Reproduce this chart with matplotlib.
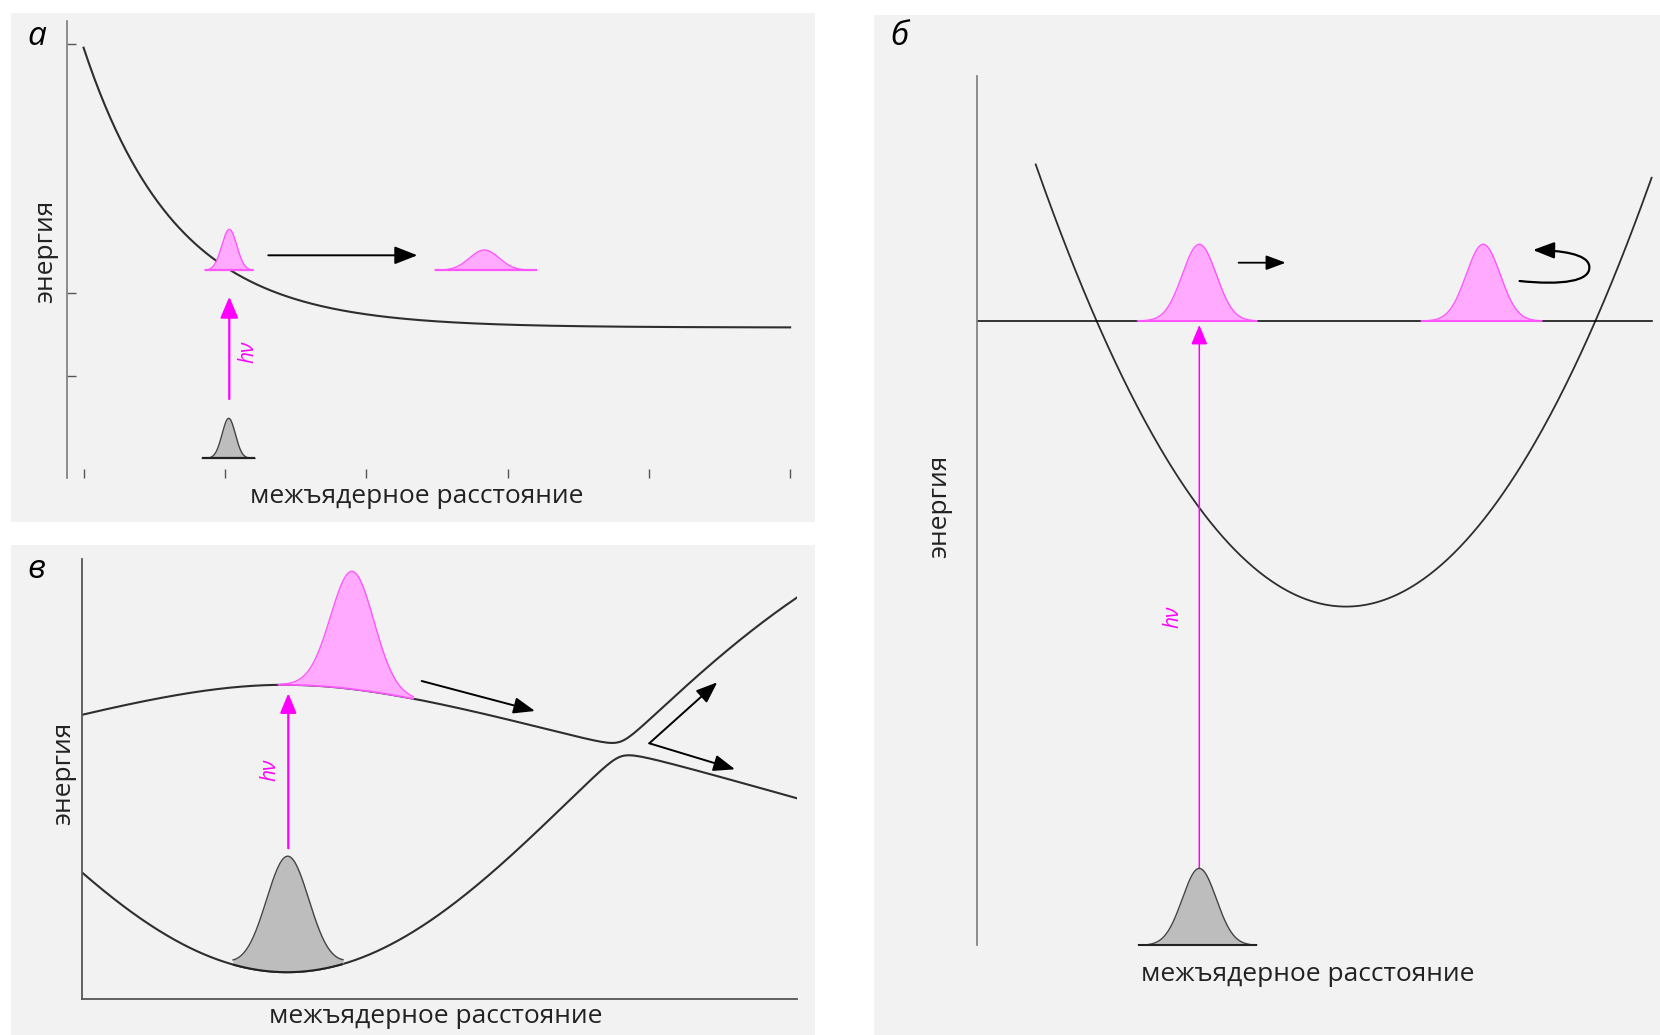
import numpy as np
import matplotlib.pyplot as plt
from matplotlib.patches import Rectangle, FancyArrowPatch
from matplotlib.path import Path

W, H = 1660, 1035
plt.rcParams['font.family'] = ['Open Sans', 'DejaVu Sans']

# colours
panel_bg = '#f2f2f2'
curve_col = '#2e2e2e'
pink_fill = '#ffaaff'
pink_edge = '#ff55ff'
magenta = '#ff00ff'
gray_fill = '#bdbdbd'
gray_edge = '#444444'

label_x = 'межъядерное расстояние'
label_y = 'энергия'
label_hv = 'hν'

# ---- panel а: dissociative state, E = e_inf + amp * exp(-r / decay)
a_span = [0.0, 5.0]
a_e_inf, a_amp, a_decay = 0.584, 3.371, 0.655
a_xticks = [0, 1, 2, 3, 4, 5]
a_yticks = [0, 1, 4]
# wavepackets: excited (start), excited (later), ground
a_pk_center = [1.031, 2.836, 1.027]
a_pk_base = [1.273, 1.273, -0.992]
a_pk_height = [0.494, 0.245, 0.482]
a_pk_sigma = [0.053, 0.105, 0.047]
a_pk_lo = [0.859, 2.487, 0.840]
a_pk_hi = [1.201, 3.207, 1.213]
a_pk_excited = [True, True, False]
a_hv_x, a_hv_from, a_hv_to = 1.031, -0.277, 0.955
a_hv_text = (1.163, 0.293)
a_move = [(1.307, 1.454), (2.362, 1.454)]

# ---- panel б: bound state, harmonic well E = e_min + k * (r - r_min)^2
b_span = [0.59, 6.749]
b_r_min, b_e_min, b_k = 3.693, 3.388, 0.4592
b_level, b_level_span = 6.244, [0.0, 6.75]
b_pk_center = [2.226, 5.065, 2.226]
b_pk_base = [6.244, 6.244, 0.0]
b_pk_height = [0.767, 0.767, 0.77]
b_pk_sigma = [0.17, 0.17, 0.17]
b_pk_lo = [1.608, 4.447, 1.613]
b_pk_hi = [2.803, 5.651, 2.803]
b_pk_excited = [True, True, False]
b_hv_x, b_hv_from, b_hv_to = 2.226, 0.77, 6.204
b_hv_text = (1.963, 3.284)
b_move = [(2.619, 6.827), (3.09, 6.827)]
b_turn = [(5.429, 6.644), (6.126, 6.787), (5.562, 6.954)]

# ---- panel в: two crossing diabatic states with weak coupling
c_span = [0.0, 7.144]
c_low_emin, c_low_r0, c_low_depth, c_low_w = 0.273, 2.047, 5.0, 3.07
c_up_emax, c_up_r0, c_up_b, c_up_w = 3.143, 2.027, 0.442, 1.5
c_coupling = 0.075
c_pink = dict(center=2.70, sigma=0.215, height=1.177, lo=1.96, hi=3.31)
c_gray = dict(center=2.054, sigma=0.215, height=1.16, lo=1.507, hi=2.607)
c_hv_x, c_hv_from, c_hv_to = 2.06, 1.51, 3.06
c_hv_text = (1.877, 2.296)
c_moves = [[(3.394, 3.183), (4.527, 2.883)],
           [(5.67, 2.56), (6.35, 3.17)],
           [(5.67, 2.56), (6.527, 2.30)]]


def fpos(x, y):
    return x / W, 1 - y / H


def px_axes(fig, left, top, right, bottom):
    ax = fig.add_axes([left / W, 1 - bottom / H, (right - left) / W, (bottom - top) / H])
    ax.set_facecolor('none')
    for s in ax.spines.values():
        s.set_visible(False)
    ax.set_xticks([])
    ax.set_yticks([])
    return ax


def packet(ax, center, sigma, height, lo, hi, base, excited, base_lw=1.6):
    r = np.linspace(lo, hi, 300)
    b = base(r) if callable(base) else np.full_like(r, base)
    top = b + height * np.exp(-0.5 * ((r - center) / sigma) ** 2)
    fill, edge = (pink_fill, pink_edge) if excited else (gray_fill, gray_edge)
    ax.fill_between(r, b, top, color=fill, lw=0, zorder=3)
    ax.plot(r, top, color=edge, lw=1.0, zorder=4)
    if base_lw:
        ax.plot(r, b, color=edge if excited else '#222222', lw=base_lw,
                zorder=4, clip_on=False, solid_capstyle='butt')


def arrow(ax, start, end, color='black', lw=1.4, hl=1.4, hw=0.55):
    ax.annotate('', xy=end, xytext=start, annotation_clip=False,
                arrowprops=dict(arrowstyle=f'-|>,head_length={hl},head_width={hw}',
                                color=color, lw=lw, shrinkA=0, shrinkB=0,
                                mutation_scale=10))


def hv_label(ax, pos):
    ax.text(*pos, label_hv, color=magenta, fontsize=15, style='italic',
            rotation=90, ha='center', va='center')


fig = plt.figure(figsize=(W / 100, H / 100), dpi=100)
for box in [(10.6, 12.7, 815, 521.5), (874, 14.5, 1660, 1035), (10.6, 545, 815, 1035)]:
    x0, y0, x1, y1 = box
    fig.patches.append(Rectangle(fpos(x0, y1), (x1 - x0) / W, (y1 - y0) / H,
                                 transform=fig.transFigure, facecolor=panel_bg,
                                 edgecolor='none', zorder=-5))

# ---------- а
ax = px_axes(fig, 66.7, 21, 815, 478.5)
ax.set_xlim(-0.1196, 5.176)
ax.set_ylim(-1.235, 4.277)
ax.spines['left'].set_visible(True)
ax.spines['left'].set_color('#7a7a7a')
ax.spines['left'].set_linewidth(1.2)
ax.set_xticks(a_xticks)
ax.set_yticks(a_yticks)
ax.tick_params(direction='in', length=6.5, width=1.0, colors='#555555',
               labelleft=False, labelbottom=False)
ra = np.linspace(*a_span, 400)
ax.plot(ra, a_e_inf + a_amp * np.exp(-ra / a_decay), color=curve_col, lw=1.5, zorder=2)
for i in range(3):
    packet(ax, a_pk_center[i], a_pk_sigma[i], a_pk_height[i], a_pk_lo[i], a_pk_hi[i],
           a_pk_base[i], a_pk_excited[i])
arrow(ax, (a_hv_x, a_hv_from), (a_hv_x, a_hv_to), color=magenta, lw=1.6, hl=1.3, hw=0.55)
hv_label(ax, a_hv_text)
arrow(ax, *a_move)

# ---------- б
ax = px_axes(fig, 976.7, 75.7, 1660, 945.4)
ax.set_xlim(0, 6.833)
ax.set_ylim(0, 8.697)
ax.spines['left'].set_visible(True)
ax.spines['left'].set_color('#7a7a7a')
ax.spines['left'].set_linewidth(1.2)
rb = np.linspace(*b_span, 400)
ax.plot(rb, b_e_min + b_k * (rb - b_r_min) ** 2, color=curve_col, lw=1.3, zorder=2)
ax.plot(b_level_span, [b_level, b_level], color='black', lw=1.1, zorder=2)
for i in range(3):
    packet(ax, b_pk_center[i], b_pk_sigma[i], b_pk_height[i], b_pk_lo[i], b_pk_hi[i],
           b_pk_base[i], b_pk_excited[i], base_lw=1.5)
arrow(ax, (b_hv_x, b_hv_from), (b_hv_x, b_hv_to), color=magenta, lw=1.1, hl=1.2, hw=0.5)
hv_label(ax, b_hv_text)
arrow(ax, *b_move, lw=1.3, hl=1.2, hw=0.45)
s, r, t = b_turn
turn_path = Path([s, (5.85, 6.60), (6.14, 6.64), r, (6.12, 6.92), (5.82, 6.95), t],
                 [Path.MOVETO] + [Path.CURVE4] * 6)
ax.add_patch(FancyArrowPatch(path=turn_path, arrowstyle='-|>,head_length=1.3,head_width=0.5',
                             mutation_scale=10, color='black', lw=1.6))

# ---------- в
ax = px_axes(fig, 82.3, 559.3, 797, 999.3)
ax.set_xlim(0, 7.147)
ax.set_ylim(0, 4.40)
for side in ['left', 'bottom']:
    ax.spines[side].set_visible(True)
    ax.spines[side].set_color('#555555')
    ax.spines[side].set_linewidth(1.3)


def diabatic(r):
    e_low = c_low_emin + c_low_depth * (1 - np.exp(-0.5 * ((r - c_low_r0) / c_low_w) ** 2))
    e_up = c_up_emax - c_up_b * (np.sqrt(1 + ((r - c_up_r0) / c_up_w) ** 2) - 1)
    return e_low, e_up


def lower_state(r):
    e1, e2 = diabatic(r)
    return (e1 + e2) / 2 - np.sqrt(((e1 - e2) / 2) ** 2 + c_coupling ** 2)


def upper_state(r):
    e1, e2 = diabatic(r)
    return (e1 + e2) / 2 + np.sqrt(((e1 - e2) / 2) ** 2 + c_coupling ** 2)


rc = np.linspace(*c_span, 800)
ax.plot(rc, lower_state(rc), color=curve_col, lw=1.5, zorder=2)
ax.plot(rc, upper_state(rc), color=curve_col, lw=1.5, zorder=2)
packet(ax, **c_pink, base=upper_state, excited=True, base_lw=1.2)
packet(ax, **c_gray, base=lower_state, excited=False, base_lw=1.5)
arrow(ax, (c_hv_x, c_hv_from), (c_hv_x, c_hv_to), color=magenta, lw=1.6, hl=1.2, hw=0.5)
hv_label(ax, c_hv_text)
for m in c_moves:
    arrow(ax, *m, hl=1.3, hw=0.5)

# ---------- texts
for letter, (x, y) in zip(['а', 'б', 'в'], [(27, 45), (890, 45), (27, 578)]):
    fig.text(*fpos(x, y), letter, fontsize=24, style='italic', ha='left', va='baseline')
for (x, y) in [(417, 503), (1307.5, 981), (436, 1023)]:
    fig.text(*fpos(x, y), label_x, fontsize=19, ha='center', va='baseline', color='#222222')
for (x, y) in [(45.5, 251), (940, 506), (63.5, 773)]:
    fig.text(*fpos(x, y), label_y, fontsize=19, rotation=90, ha='center', va='center',
             color='#222222')

fig.savefig('out.png', dpi=100, facecolor='white')
